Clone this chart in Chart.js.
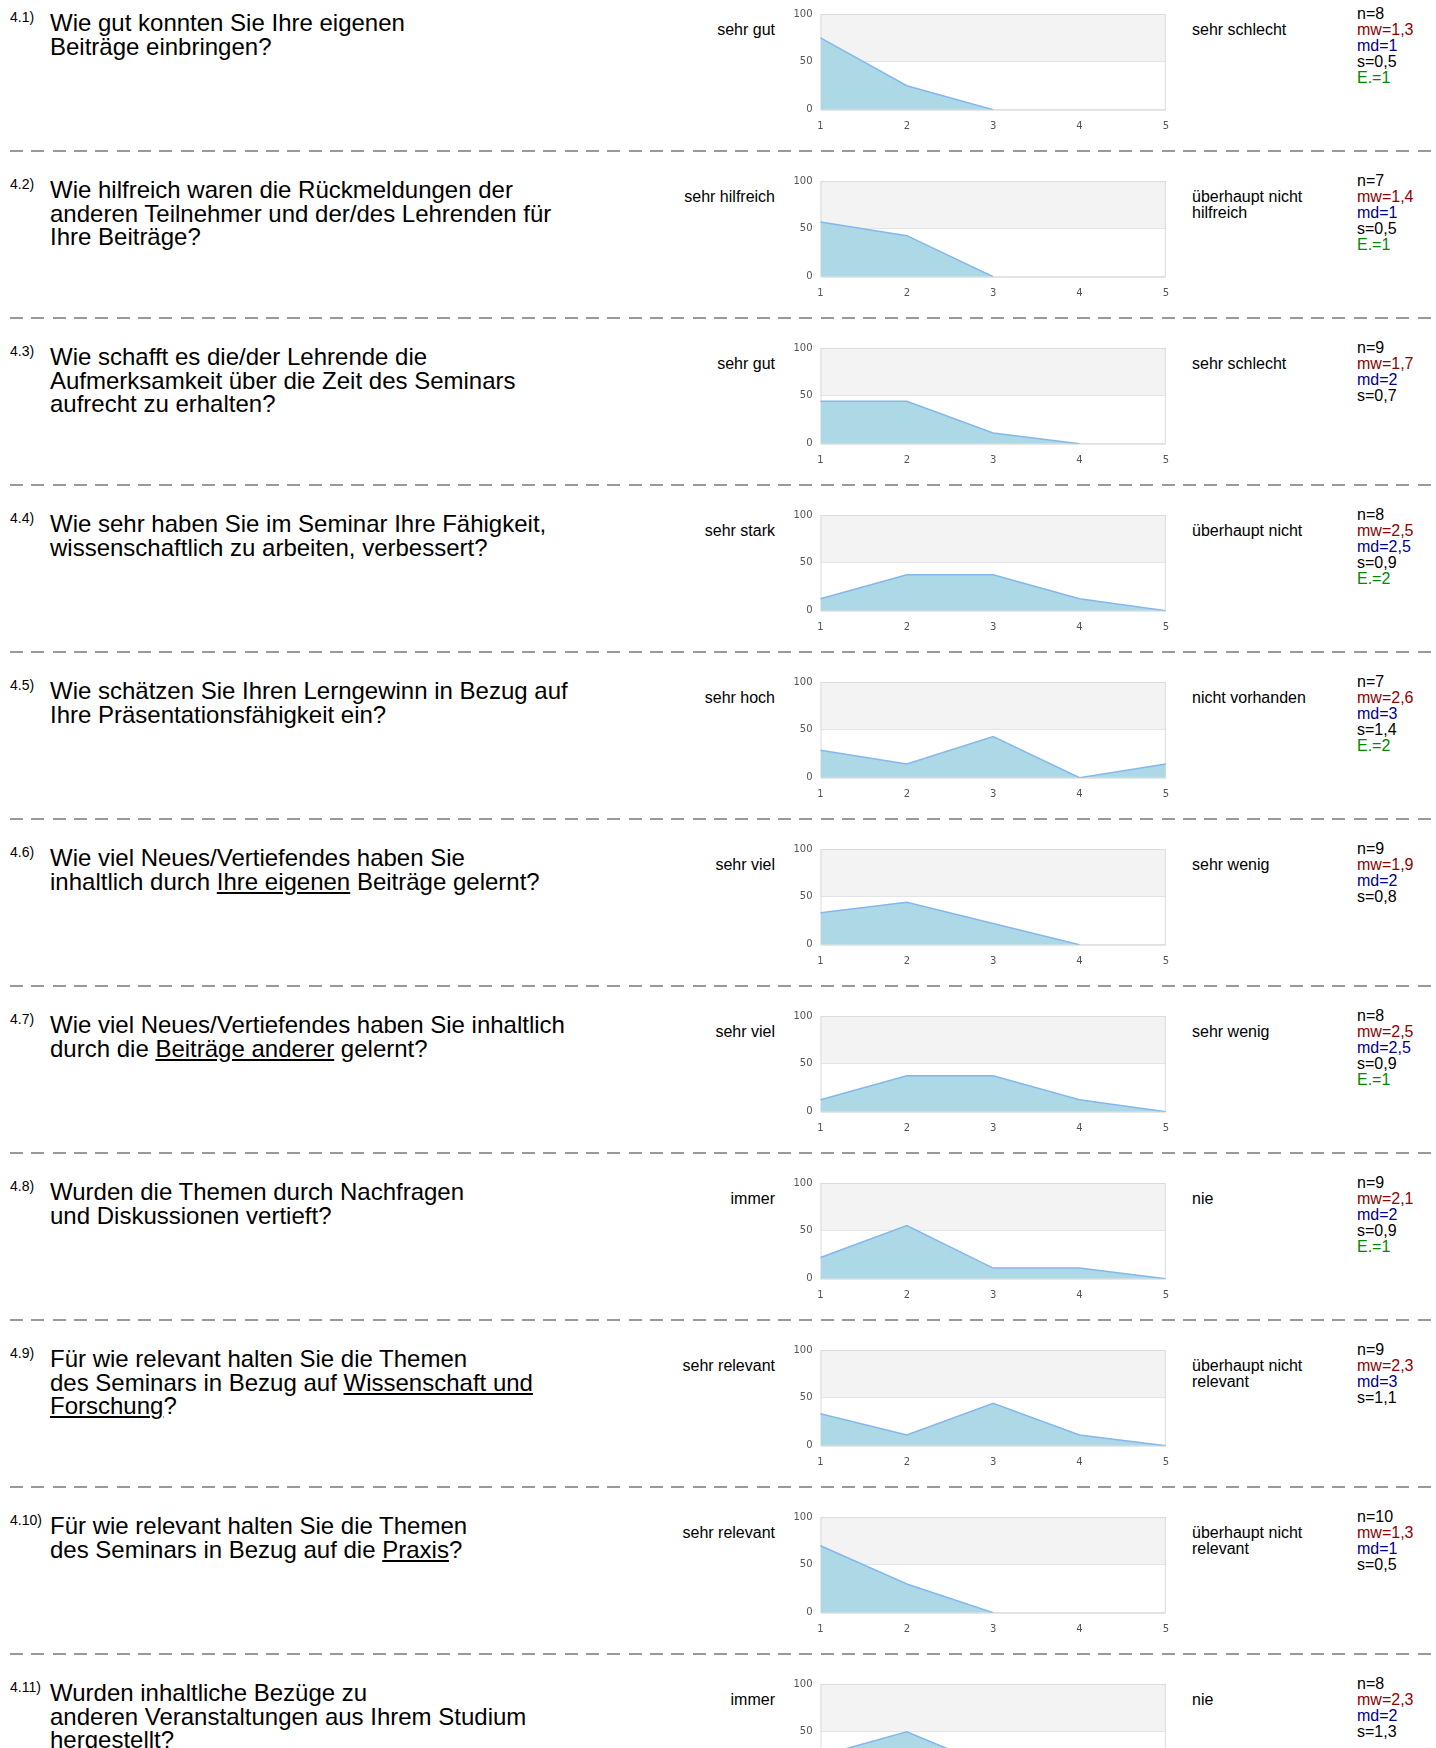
<!DOCTYPE html>
<html>
<head>
<meta charset="utf-8">
<title>Evaluation 4</title>
<script src="https://cdn.jsdelivr.net/npm/chart.js@4.4.1/dist/chart.umd.min.js"></script>
<style>
html,body{margin:0;padding:0;background:#fff;overflow:hidden;}
body{width:1436px;height:1840px;position:relative;font-family:"Liberation Sans",Arial,sans-serif;color:#000;}
.row{position:absolute;left:0;width:1436px;height:167px;}
.num{position:absolute;left:10px;top:10px;font-size:14px;line-height:14px;}
.question{position:absolute;left:50px;top:11.4px;font-size:24px;line-height:23.5px;white-space:nowrap;}
.lbl-left{position:absolute;right:661px;top:22.4px;font-size:16px;line-height:15.5px;text-align:right;white-space:nowrap;}
.lbl-right{position:absolute;left:1192px;top:22.4px;font-size:16px;line-height:15.5px;white-space:nowrap;}
.stats{position:absolute;left:1357px;top:6.2px;font-size:16px;line-height:16px;white-space:nowrap;}
.stats .mw{color:#8f0000;}
.stats .md{color:#000088;}
.stats .e{color:#008800;}
canvas{position:absolute;left:780px;top:0;}
.sep{position:absolute;left:10px;width:1422px;height:2px;
background:repeating-linear-gradient(to right,#999 0 13px,transparent 13px 21.33px);}
</style>
</head>
<body>
<div id="page"></div>
<script>
// answer scale 1..5, values in percent of answers
const categories = ["1","2","3","4","5"];
const yTicks = [0,50,100];

const q41 = [75,25,0,0,0];
const q42 = [57.1,42.9,0,0,0];
const q43 = [44.4,44.4,11.1,0,0];
const q44 = [12.5,37.5,37.5,12.5,0];
const q45 = [28.6,14.3,42.9,0,14.3];
const q46 = [33.3,44.4,22.2,0,0];
const q47 = [12.5,37.5,37.5,12.5,0];
const q48 = [22.2,55.6,11.1,11.1,0];
const q49 = [33.3,11.1,44.4,11.1,0];
const q410 = [70,30,0,0,0];
const q411 = [25,50,12.5,0,12.5];

const questionIds = ["4.1)","4.2)","4.3)","4.4)","4.5)","4.6)","4.7)","4.8)","4.9)","4.10)","4.11)"];
const questionTexts = [
"Wie gut konnten Sie Ihre eigenen<br>Beiträge einbringen?",
"Wie hilfreich waren die Rückmeldungen der<br>anderen Teilnehmer und der/des Lehrenden für<br>Ihre Beiträge?",
"Wie schafft es die/der Lehrende die<br>Aufmerksamkeit über die Zeit des Seminars<br>aufrecht zu erhalten?",
"Wie sehr haben Sie im Seminar Ihre Fähigkeit,<br>wissenschaftlich zu arbeiten, verbessert?",
"Wie schätzen Sie Ihren Lerngewinn in Bezug auf<br>Ihre Präsentationsfähigkeit ein?",
"Wie viel Neues/Vertiefendes haben Sie<br>inhaltlich durch <u>Ihre eigenen</u> Beiträge gelernt?",
"Wie viel Neues/Vertiefendes haben Sie inhaltlich<br>durch die <u>Beiträge anderer</u> gelernt?",
"Wurden die Themen durch Nachfragen<br>und Diskussionen vertieft?",
"Für wie relevant halten Sie die Themen<br>des Seminars in Bezug auf <u>Wissenschaft und</u><br><u>Forschung</u>?",
"Für wie relevant halten Sie die Themen<br>des Seminars in Bezug auf die <u>Praxis</u>?",
"Wurden inhaltliche Bezüge zu<br>anderen Veranstaltungen aus Ihrem Studium<br>hergestellt?"
];
const leftLabels = ["sehr gut","sehr hilfreich","sehr gut","sehr stark","sehr hoch","sehr viel","sehr viel","immer","sehr relevant","sehr relevant","immer"];
const rightLabels = ["sehr schlecht","überhaupt nicht<br>hilfreich","sehr schlecht","überhaupt nicht","nicht vorhanden","sehr wenig","sehr wenig","nie","überhaupt nicht<br>relevant","überhaupt nicht<br>relevant","nie"];

const nValues = [8,7,9,8,7,9,8,9,9,10,8];
const mwValues = ["1,3","1,4","1,7","2,5","2,6","1,9","2,5","2,1","2,3","1,3","2,3"];
const mdValues = ["1","1","2","2,5","3","2","2,5","2","3","1","2"];
const sValues = ["0,5","0,5","0,7","0,9","1,4","0,8","0,9","0,9","1,1","0,5","1,3"];
const eValues = ["1","1",null,"2","2",null,"1","1",null,null,null];

const series = [q41,q42,q43,q44,q45,q46,q47,q48,q49,q410,q411];

const ROW_H = 167;

// grey band 50-100 and thin frame round the plot
const bandPlugin = {
id:"band",
beforeDraw(chart){
let a = chart.chartArea;
let y = chart.scales.y;
let ctx = chart.ctx;
ctx.save();
ctx.fillStyle = "#f3f3f3";
let top = y.getPixelForValue(100);
let mid = y.getPixelForValue(50);
ctx.fillRect(a.left,top,a.right-a.left,mid-top);
ctx.restore();
},
beforeDatasetsDraw(chart){
let a = chart.chartArea;
let ctx = chart.ctx;
ctx.save();
ctx.strokeStyle = "#dcdcdc";
ctx.lineWidth = 1;
ctx.strokeRect(a.left+0.5,a.top+0.5,a.right-a.left-1,a.bottom-a.top);
ctx.restore();
}
};

let page = document.getElementById("page");

for(let i=0;i<series.length;i++){

let row = document.createElement("div");
row.className = "row";
row.style.top = (i*ROW_H)+"px";

let stats = "n="+nValues[i]+"<br><span class='mw'>mw="+mwValues[i]+"</span><br><span class='md'>md="+mdValues[i]+"</span><br>s="+sValues[i];
if(eValues[i]){
stats += "<br><span class='e'>E.="+eValues[i]+"</span>";
}

row.innerHTML =
"<div class='num'>"+questionIds[i]+"</div>"+
"<div class='question'>"+questionTexts[i]+"</div>"+
"<div class='lbl-left'>"+leftLabels[i]+"</div>"+
"<div class='lbl-right'>"+rightLabels[i]+"</div>"+
"<div class='stats'>"+stats+"</div>";

let canvas = document.createElement("canvas");
canvas.width = 400;
canvas.height = 135;
row.appendChild(canvas);
page.appendChild(row);

if(i<series.length-1){
let sep = document.createElement("div");
sep.className = "sep";
sep.style.top = (150+i*ROW_H)+"px";
page.appendChild(sep);
}

new Chart(canvas,{
type:"line",
data:{
labels:categories,
datasets:[{
data:series[i],
borderColor:"#84b8ec",
backgroundColor:"#add8e6",
borderWidth:1.5,
fill:"origin",
tension:0,
pointRadius:0,
segment:{
// no visible stroke where the line just runs along zero
borderColor:c => (c.p0.parsed.y===0 && c.p1.parsed.y===0) ? "rgba(0,0,0,0)" : undefined
}
}]
},
options:{
responsive:false,
animation:false,
devicePixelRatio:1,
layout:{padding:{top:12.3,right:13.5,bottom:0,left:0}},
plugins:{legend:{display:false},tooltip:{enabled:false}},
scales:{
x:{
grid:{display:false,drawTicks:false},
border:{display:false},
ticks:{padding:11,color:"#555",font:{family:"DejaVu Sans",size:10},maxRotation:0},
afterFit:function(scale){ scale.height = 25.3; }
},
y:{
min:0,
max:100,
grid:{color:"#e4e4e4",drawTicks:false},
border:{display:false},
ticks:{padding:8,color:"#555",font:{family:"DejaVu Sans",size:10}},
afterBuildTicks:function(scale){ scale.ticks = yTicks.map(v=>({value:v})); },
afterFit:function(scale){ scale.width = 40.5; }
}
}
},
plugins:[bandPlugin]
});

}
</script>
</body>
</html>
